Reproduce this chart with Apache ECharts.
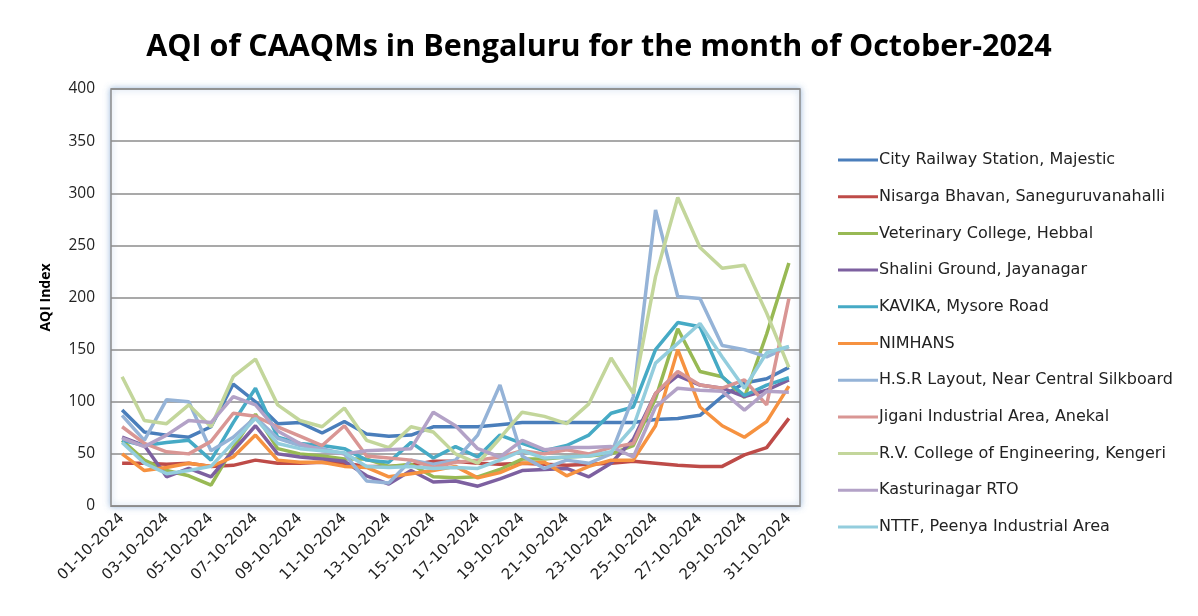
<!DOCTYPE html>
<html><head><meta charset="utf-8">
<script src="https://cdn.jsdelivr.net/npm/echarts@6/dist/echarts.min.js"></script>
<style>html,body{margin:0;padding:0;background:#fff}#c{width:1198px;height:616px}</style>
</head><body><div id="c"></div>
<script>
const categories = [];
for (let d = 1; d <= 31; d++) categories.push((d < 10 ? '0' + d : '' + d) + '-10-2024');

const seriesNames = [
  'City Railway Station, Majestic',
  'Nisarga Bhavan, Saneguruvanahalli',
  'Veterinary College, Hebbal',
  'Shalini Ground, Jayanagar',
  'KAVIKA, Mysore Road',
  'NIMHANS',
  'H.S.R Layout, Near Central Silkboard',
  'Jigani Industrial Area, Anekal',
  'R.V. College of Engineering, Kengeri',
  'Kasturinagar RTO',
  'NTTF, Peenya Industrial Area'
];
const majestic   = [92,71,68,66,76,117,100,79,80,70,81,69,67,68,76,76,76,78,80,80,80,80,80,80,83,84,87,105,118,122,133];
const nisarga    = [41,41,40,41,38,39,44,41,41,42,41,38,38,39,43,43,41,40,41,40,39,40,41,43,41,39,38,38,49,56,84];
const hebbal     = [63,44,34,29,20,56,88,55,50,48,45,45,38,40,28,27,28,35,45,45,47,48,50,58,103,170,129,124,104,165,233];
const shalini    = [66,58,28,36,28,53,77,50,47,45,43,29,21,34,23,24,19,26,34,35,36,28,41,64,108,125,116,113,105,111,121];
const kavika     = [63,58,61,63,44,80,113,66,60,58,55,44,42,61,46,57,47,68,60,53,58,68,89,95,150,176,172,124,106,116,123];
const nimhans    = [50,34,37,41,38,47,68,44,42,42,38,37,28,31,34,38,27,32,41,42,29,38,44,44,77,150,95,77,66,81,115];
const hsr        = [87,63,102,100,53,66,85,65,58,55,50,24,22,44,40,44,68,116,48,36,44,41,50,105,284,201,199,154,150,143,153];
const jigani     = [76,60,52,50,62,89,86,76,67,58,77,48,46,44,37,42,44,47,53,50,54,50,56,60,108,129,116,113,121,97,199];
const rvce       = [124,82,79,97,76,124,141,97,82,76,94,63,56,76,71,50,41,65,90,86,79,98,142,108,220,296,248,228,231,185,133];
const kasturi    = [65,57,68,82,80,105,97,72,60,53,50,53,54,55,90,77,55,47,63,54,56,56,57,47,95,113,111,110,92,110,109];
const nttf       = [61,41,31,34,38,61,84,60,55,53,51,38,37,38,36,37,36,44,53,46,47,48,52,76,137,156,175,143,113,147,153];
const yTicks = [0,50,100,150,200,250,300,350,400];

const allData = [majestic,nisarga,hebbal,shalini,kavika,nimhans,hsr,jigani,rvce,kasturi,nttf];
const colors = ['#4A7EBB','#BE4B48','#98B954','#7D60A0','#46AAC5','#F69240','#95B3D7','#D99694','#C3D69B','#B3A2C7','#93CDDD'];

const FONT = '"Open Sans", "Liberation Sans", sans-serif';
const WIDE = '"DejaVu Sans", sans-serif';
const chart = echarts.init(document.getElementById('c'), null, {renderer: 'canvas'});
chart.setOption({
  backgroundColor: '#fff',
  animation: false,
  color: colors,
  title: {
    text: 'AQI of CAAQMs in Bengaluru for the month of October-2024',
    left: 'center', top: 27,
    textStyle: {fontFamily: FONT, fontSize: 30.5, fontWeight: 'bold', color: '#000'}
  },
  grid: {
    left: 111, right: 398, top: 89, bottom: 110,
    show: true, borderColor: '#8c8c8c', borderWidth: 1.5,
    backgroundColor: '#fff',
    shadowColor: 'rgba(120,160,210,0.7)', shadowBlur: 6
  },
  legend: {
    orient: 'vertical', left: 833, top: 147,
    itemWidth: 40, itemHeight: 3, itemGap: 20.7,
    icon: 'rect',
    textStyle: {fontFamily: WIDE, fontSize: 16, color: '#222', padding: [0,0,0,-4]},
    data: seriesNames
  },
  xAxis: {
    type: 'category', data: categories, boundaryGap: true,
    axisLine: {show: true, lineStyle: {color: '#8c8c8c'}},
    axisTick: {show: false},
    axisLabel: {interval: 1, rotate: 45, fontFamily: WIDE, fontSize: 15, color: '#222', margin: 10}
  },
  yAxis: {
    type: 'value', min: 0, max: 400, interval: 50,
    name: 'AQI Index', nameLocation: 'middle', nameGap: 58, nameRotate: 90,
    nameTextStyle: {fontFamily: FONT, fontSize: 14, fontWeight: 'bold', color: '#000'},
    axisLine: {show: false}, axisTick: {show: false},
    axisLabel: {fontFamily: FONT, fontSize: 15.5, color: '#222', margin: 16,
      formatter: v => yTicks.indexOf(v) >= 0 ? String(v) : ''},
    splitLine: {show: true, lineStyle: {color: '#8c8c8c', width: 1.5}}
  },
  series: seriesNames.map((n, i) => ({
    name: n, type: 'line', data: allData[i], showSymbol: false, symbol: 'none',
    lineStyle: {width: 3.5, color: colors[i]}, itemStyle: {color: colors[i]}
  }))
});
</script></body></html>
